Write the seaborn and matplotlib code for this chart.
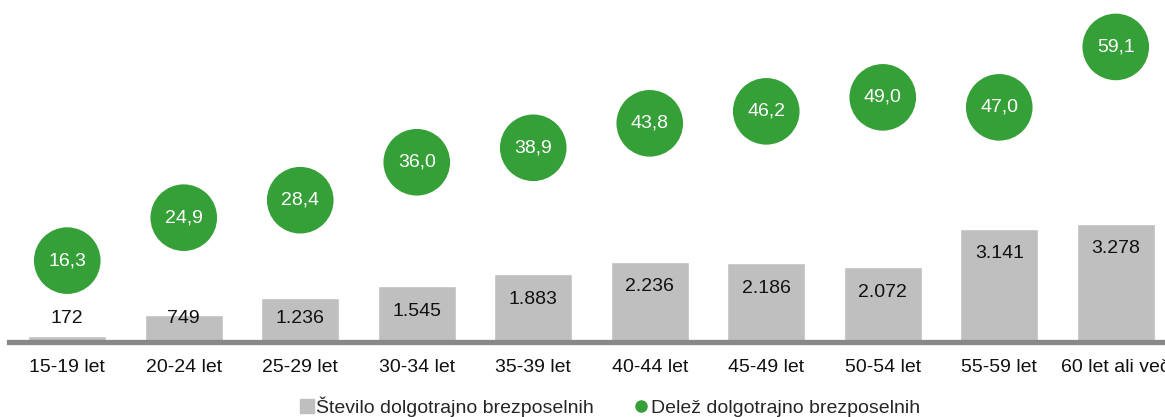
import matplotlib
matplotlib.use("Agg")
from matplotlib import pyplot as plt
from matplotlib.lines import Line2D
import seaborn as sns
import numpy as np

# podatki
ages = ["15-19 let", "20-24 let", "25-29 let", "30-34 let", "35-39 let",
        "40-44 let", "45-49 let", "50-54 let", "55-59 let", "60 let ali več"]
stevilo = [172, 749, 1236, 1545, 1883, 2236, 2186, 2072, 3141, 3278]
delez = [16.3, 24.9, 28.4, 36.0, 38.9, 43.8, 46.2, 49.0, 47.0, 59.1]

GRAY = "#BFBFBF"
GREEN = "#35A037"

sns.set_style("white")
plt.rcParams['font.family'] = ['Liberation Sans', 'DejaVu Sans']
FS = 14


def fmt_int(v):
    return "{:,}".format(v).replace(",", ".")


def fmt_dec(v):
    return "{:.1f}".format(v).replace(".", ",")


fig = plt.figure(figsize=(11.65, 4.17), dpi=100)
ax = fig.add_axes([9 / 1165, 75 / 417, 1.0, 342 / 417])

sns.barplot(x=ages, y=stevilo, color=GRAY, saturation=1, width=0.67, ax=ax)
ax.set_ylim(0, 9500)
ax.set_xlim(-0.5, len(ages) - 0.5)
ax.set_xlabel("")
ax.set_ylabel("")
ax.set_yticks([])
for s in ["top", "right", "left"]:
    ax.spines[s].set_visible(False)
ax.spines["bottom"].set_color("#888888")
ax.spines["bottom"].set_linewidth(3.8)
ax.tick_params(axis="x", length=0, pad=12, labelsize=FS, labelcolor="#111111")

# oznake stolpcev
for i, v in enumerate(stevilo):
    ax.text(i, max(v - 690, 640), fmt_int(v), ha="center", va="center",
            fontsize=FS, color="#111111")

# delez - krogi
ax2 = ax.twinx()
pos = np.arange(len(ages))
sns.scatterplot(x=pos, y=delez, s=2300, color=GREEN, edgecolor="none",
                ax=ax2, legend=False, clip_on=False)
ax2.set_ylim(0, 68.5)
ax2.set_yticks([])
ax2.set_ylabel("")
for s in ax2.spines.values():
    s.set_visible(False)
for i, v in enumerate(delez):
    ax2.text(i, v, fmt_dec(v), ha="center", va="center", fontsize=FS, color="white")

handles = [
    Line2D([], [], marker="s", color=GRAY, linestyle="none", markersize=10),
    Line2D([], [], marker="o", color=GREEN, linestyle="none", markersize=8),
]
fig.legend(handles, ["Število dolgotrajno brezposelnih", "Delež dolgotrajno brezposelnih"],
           loc="center", bbox_to_anchor=(0.523, 10 / 417), ncol=2, frameon=False,
           fontsize=FS, handletextpad=0.1, columnspacing=2.0, handlelength=0.8)

plt.savefig("out.png", dpi=100)
